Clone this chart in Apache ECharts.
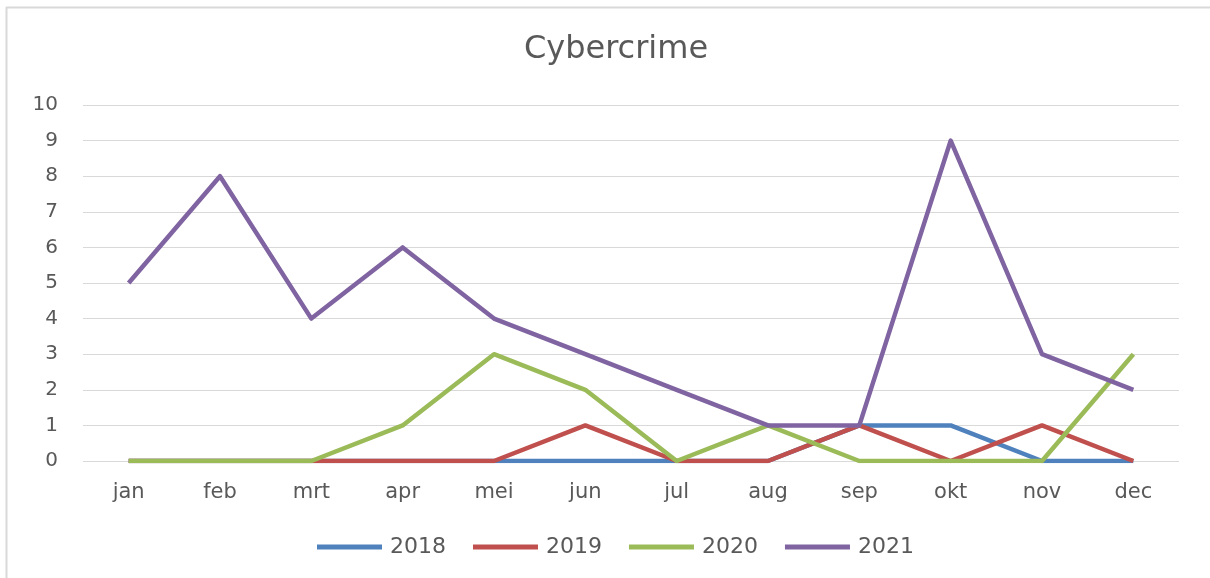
<!DOCTYPE html>
<html>
<head>
<meta charset="utf-8">
<script src="https://cdn.jsdelivr.net/npm/echarts@6/dist/echarts.min.js"></script>
<style>
  html, body { margin: 0; padding: 0; background: #fff; }
  #chart { width: 1210px; height: 578px; }
</style>
</head>
<body>
<div id="chart"></div>
<script>
// maanden en aantallen per jaar
const months = ['jan', 'feb', 'mrt', 'apr', 'mei', 'jun', 'jul', 'aug', 'sep', 'okt', 'nov', 'dec'];
const years = ['2018', '2019', '2020', '2021'];
const cases2018 = [0, 0, 0, 0, 0, 0, 0, 0, 1, 1, 0, 0];
const cases2019 = [0, 0, 0, 0, 0, 1, 0, 0, 1, 0, 1, 0];
const cases2020 = [0, 0, 0, 1, 3, 2, 0, 1, 0, 0, 0, 3];
const cases2021 = [5, 8, 4, 6, 4, 3, 2, 1, 1, 9, 3, 2];
const yTicks = [0, 1, 2, 3, 4, 5, 6, 7, 8, 9, 10];

const colors = ['#4f81bd', '#c0504d', '#9bbb59', '#8064a2'];
const textColor = '#595959';
const fontName = 'DejaVu Sans';

const chart = echarts.init(document.getElementById('chart'));

function lineSeries(name, values) {
  return {
    name: name,
    type: 'line',
    data: values,
    showSymbol: false,
    symbol: 'none',
    lineStyle: { width: 4.5, join: 'round' },
    emphasis: { disabled: true }
  };
}

const option = {
  animation: false,
  color: colors,
  textStyle: { fontFamily: fontName },
  title: {
    text: 'Cybercrime',
    left: 611,
    textAlign: 'center',
    top: 29,
    textStyle: { fontFamily: fontName, fontSize: 32, fontWeight: 'normal', color: textColor }
  },
  legend: {
    data: years,
    left: 312,
    top: 531,
    icon: 'rect',
    itemWidth: 65,
    itemHeight: 5,
    itemGap: 27,
    textStyle: { fontFamily: fontName, fontSize: 22, color: textColor, padding: [0, 0, 0, 3] }
  },
  grid: { left: 83, right: 31, top: 105, bottom: 117, containLabel: false },
  xAxis: {
    type: 'category',
    data: months,
    boundaryGap: true,
    axisLine: { show: false },
    axisTick: { show: false },
    axisLabel: { fontFamily: fontName, fontSize: 21, color: textColor, margin: 21 }
  },
  yAxis: {
    type: 'value',
    min: yTicks[0],
    max: yTicks[yTicks.length - 1],
    interval: 1,
    axisLine: { show: false },
    axisTick: { show: false },
    axisLabel: { fontFamily: fontName, fontSize: 20, color: textColor, margin: 25 },
    splitLine: { lineStyle: { color: '#d9d9d9', width: 1 } }
  },
  graphic: [
    { type: 'line', shape: { x1: 6.5, y1: 7, x2: 6.5, y2: 578 }, style: { stroke: '#d9d9d9', lineWidth: 2 } },
    { type: 'line', shape: { x1: 6, y1: 7.5, x2: 1210, y2: 7.5 }, style: { stroke: '#d9d9d9', lineWidth: 2 } }
  ],
  series: [
    lineSeries(years[0], cases2018),
    lineSeries(years[1], cases2019),
    lineSeries(years[2], cases2020),
    lineSeries(years[3], cases2021)
  ]
};

chart.setOption(option);
</script>
</body>
</html>
